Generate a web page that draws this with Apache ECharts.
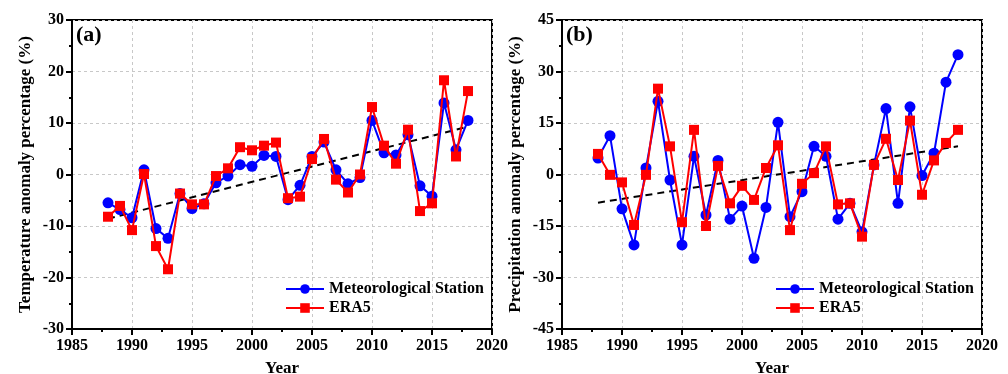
<!DOCTYPE html>
<html>
<head>
    <meta charset="utf-8" />
    <title></title>
</head>
<body style="margin:0">
<div id="main" style="width:1008px;height:374px"></div>
<script src="https://cdn.jsdelivr.net/npm/echarts@6/dist/echarts.min.js"></script>
<script type="text/javascript">
    var years = [1988, 1989, 1990, 1991, 1992, 1993, 1994, 1995, 1996, 1997, 1998, 1999, 2000, 2001, 2002, 2003,
        2004, 2005, 2006, 2007, 2008, 2009, 2010, 2011, 2012, 2013, 2014, 2015, 2016, 2017, 2018];

    // (a) temperature anomaly percentage
    var tempStation = [-5.5, -6.8, -8.4, 0.9, -10.5, -12.4, -3.7, -6.6, -5.7, -1.6, -0.3, 1.9, 1.6, 3.7, 3.5, -4.9,
        -2.1, 3.5, 6.3, 0.9, -1.8, -0.6, 10.5, 4.2, 3.8, 7.7, -2.2, -4.2, 13.9, 4.8, 10.5];
    var tempEra5 = [-8.2, -6.1, -10.8, 0.1, -13.9, -18.4, -3.7, -5.8, -5.8, -0.3, 1.2, 5.3, 4.7, 5.6, 6.2, -4.6,
        -4.3, 3.0, 6.9, -1.0, -3.5, 0, 13.1, 5.6, 2.1, 8.7, -7.1, -5.6, 18.3, 3.5, 16.2];
    var tempTrend = [[1988, -8.6], [2018, 9.3]];

    // (b) precipitation anomaly percentage
    var precStation = [4.8, 11.3, -10.0, -20.5, 1.9, 21.3, -1.6, -20.5, 5.3, -11.8, 4.1, -13.0, -9.2, -24.4, -9.6, 15.2,
        -12.3, -5.0, 8.2, 5.3, -13.0, -8.4, -16.7, 2.8, 19.2, -8.4, 19.7, -0.3, 6.2, 26.9, 34.9];
    var precEra5 = [6.0, -0.1, -2.3, -14.7, -0.1, 25.0, 8.2, -13.9, 13.0, -15.0, 2.5, -8.4, -3.3, -7.4, 1.9, 8.5,
        -16.2, -2.7, 0.4, 8.2, -8.7, -8.4, -18.1, 2.8, 10.4, -1.6, 15.7, -5.9, 4.1, 9.2, 13.0];
    var precTrend = [[1988, -8.2], [2018, 8.2]];

    function pairs(xs, ys) {
        return xs.map(function (x, i) { return [x, ys[i]]; });
    }

    var font = 'Liberation Serif';
    var txt = { fontFamily: font, fontWeight: 'bold', color: '#000' };

    function xAx(idx) {
        return {
            type: 'value', gridIndex: idx, min: 1985, max: 2020, interval: 5,
            name: 'Year', nameLocation: 'middle', nameGap: 31,
            nameTextStyle: Object.assign({ fontSize: 17 }, txt),
            axisLine: { onZero: false, lineStyle: { color: '#000', width: 2 } },
            axisTick: { length: 6, lineStyle: { width: 2 } },
            minorTick: { show: true, splitNumber: 2, length: 3, lineStyle: { color: '#000', width: 2 } },
            axisLabel: Object.assign({ fontSize: 16, margin: 9, formatter: function (v) { return String(v); } }, txt),
            splitLine: { show: true, lineStyle: { color: '#c8c8c8', type: [3, 3], width: 1 } }
        };
    }

    function yAx(idx, lim, step, title) {
        return {
            type: 'value', gridIndex: idx, min: -lim, max: lim, interval: step,
            name: title, nameLocation: 'middle', nameGap: 38, nameRotate: 90,
            nameTextStyle: Object.assign({ fontSize: 17 }, txt),
            axisLine: { onZero: false, lineStyle: { color: '#000', width: 2 } },
            axisTick: { length: 6, lineStyle: { width: 2 } },
            minorTick: { show: true, splitNumber: 2, length: 3, lineStyle: { color: '#000', width: 2 } },
            axisLabel: Object.assign({ fontSize: 16, margin: 8 }, txt),
            splitLine: { show: true, lineStyle: { color: '#c8c8c8', type: [3, 3], width: 1 } }
        };
    }

    function stationSeries(idx, data) {
        return {
            name: 'Meteorological Station', type: 'line', xAxisIndex: idx, yAxisIndex: idx,
            data: pairs(years, data), symbol: 'circle', symbolSize: 11,
            itemStyle: { color: '#0000ff' }, lineStyle: { color: '#0000ff', width: 2 }, z: 3
        };
    }

    function eraSeries(idx, data) {
        return {
            name: 'ERA5', type: 'line', xAxisIndex: idx, yAxisIndex: idx,
            data: pairs(years, data), symbol: 'rect', symbolSize: 10,
            itemStyle: { color: '#ff0000' }, lineStyle: { color: '#ff0000', width: 2 }, z: 4
        };
    }

    function trendSeries(idx, data) {
        return {
            name: 'trend', type: 'line', xAxisIndex: idx, yAxisIndex: idx, data: data,
            symbol: 'none', lineStyle: { color: '#000', width: 2, type: [7, 5] }, z: 2, silent: true
        };
    }

    function legend(left) {
        return {
            left: left, top: 276, orient: 'vertical', itemWidth: 38, itemHeight: 12, itemGap: 3,
            data: ['Meteorological Station', 'ERA5'],
            textStyle: Object.assign({ fontSize: 16 }, txt)
        };
    }

    var myChart = echarts.init(document.getElementById('main'));
    var option = {
        backgroundColor: '#fff',
        animation: false,
        title: [
            { text: '(a)', left: 76, top: 24, textStyle: Object.assign({ fontSize: 22 }, txt), padding: 0 },
            { text: '(b)', left: 566, top: 24, textStyle: Object.assign({ fontSize: 22 }, txt), padding: 0 }
        ],
        legend: [legend(280), legend(770)],
        grid: [
            { left: 72, top: 20, width: 420, height: 309, show: true, borderColor: '#000', borderWidth: 2, outerBoundsMode: 'none' },
            { left: 562, top: 20, width: 420, height: 309, show: true, borderColor: '#000', borderWidth: 2, outerBoundsMode: 'none' }
        ],
        xAxis: [xAx(0), xAx(1)],
        yAxis: [
            yAx(0, 30, 10, 'Temperature anomaly percentage (%)'),
            yAx(1, 45, 15, 'Precipitation anomaly percentage (%)')
        ],
        series: [
            trendSeries(0, tempTrend), stationSeries(0, tempStation), eraSeries(0, tempEra5),
            trendSeries(1, precTrend), stationSeries(1, precStation), eraSeries(1, precEra5)
        ]
    };
    myChart.setOption(option);
</script>
</body>
</html>
